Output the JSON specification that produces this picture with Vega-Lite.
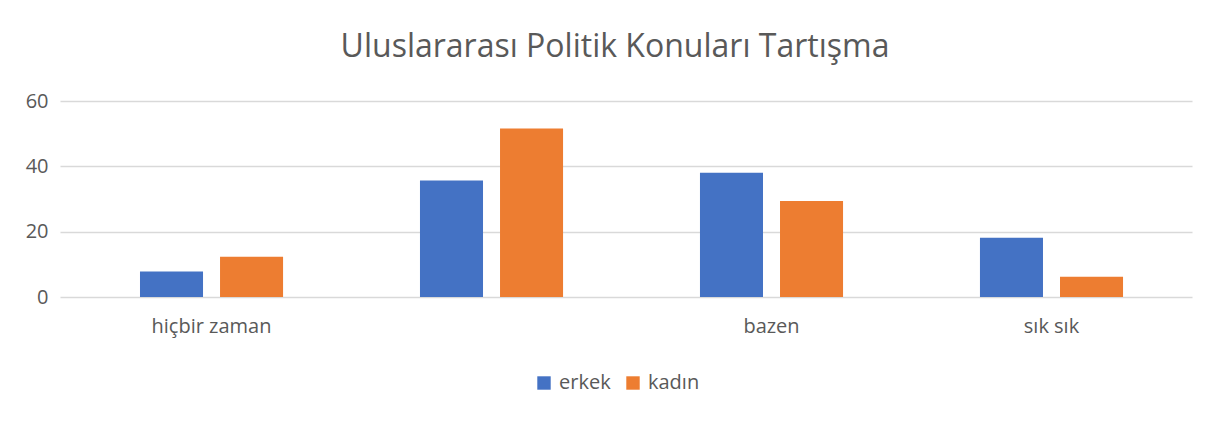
{
  "$schema": "https://vega.github.io/schema/vega-lite/v6.json",
  "autosize": {"type": "none"},
  "width": 1132,
  "height": 196,
  "padding": {"left": 60, "top": 101, "right": 29, "bottom": 125},
  "background": "white",
  "title": {
    "text": "Uluslararası Politik Konuları Tartışma",
    "font": "Open Sans",
    "fontSize": 32,
    "fontWeight": "normal",
    "color": "#595959",
    "anchor": "middle",
    "dx": -11,
    "offset": 27
  },
  "data": {
    "values": [
      {"kategori": "hiçbir zaman", "cinsiyet": "erkek", "deger": 7.8},
      {"kategori": "hiçbir zaman", "cinsiyet": "kadın", "deger": 12.3},
      {"kategori": " ", "cinsiyet": "erkek", "deger": 35.7},
      {"kategori": " ", "cinsiyet": "kadın", "deger": 51.6},
      {"kategori": "bazen", "cinsiyet": "erkek", "deger": 38.0},
      {"kategori": "bazen", "cinsiyet": "kadın", "deger": 29.4},
      {"kategori": "sık sık", "cinsiyet": "erkek", "deger": 18.1},
      {"kategori": "sık sık", "cinsiyet": "kadın", "deger": 6.2}
    ]
  },
  "mark": {"type": "bar"},
  "encoding": {
    "x": {
      "field": "kategori",
      "type": "nominal",
      "sort": ["hiçbir zaman", " ", "bazen", "sık sık"],
      "scale": {"paddingInner": 0.489, "paddingOuter": 0.266, "align": 0.537},
      "axis": {
        "title": null,
        "labelAngle": 0,
        "ticks": false,
        "domain": false,
        "labelPadding": 19,
        "labelFont": "Open Sans",
        "labelFontSize": 20,
        "labelColor": "#595959"
      }
    },
    "xOffset": {
      "field": "cinsiyet",
      "type": "nominal",
      "sort": ["erkek", "kadın"],
      "scale": {"paddingInner": 0.2125, "paddingOuter": 0}
    },
    "y": {
      "field": "deger",
      "type": "quantitative",
      "scale": {"domain": [0, 60], "nice": false},
      "axis": {
        "title": null,
        "values": [0, 20, 40, 60],
        "ticks": false,
        "domain": false,
        "labelPadding": 12,
        "labelFont": "Open Sans",
        "labelFontSize": 20,
        "labelColor": "#595959",
        "gridColor": "#d9d9d9",
        "gridWidth": 1.3
      }
    },
    "color": {
      "field": "cinsiyet",
      "type": "nominal",
      "sort": ["erkek", "kadın"],
      "scale": {"domain": ["erkek", "kadın"], "range": ["#4472C4", "#ED7D31"]},
      "legend": {
        "title": null,
        "orient": "none",
        "legendX": 474,
        "legendY": 272,
        "direction": "horizontal",
        "symbolType": "square",
        "symbolSize": 180,
        "symbolStrokeWidth": 0,
        "symbolOpacity": 1,
        "labelFont": "Open Sans",
        "labelFontSize": 20,
        "labelColor": "#595959",
        "labelOffset": 5,
        "columnPadding": 12
      }
    }
  },
  "config": {
    "view": {"stroke": null}
  }
}
